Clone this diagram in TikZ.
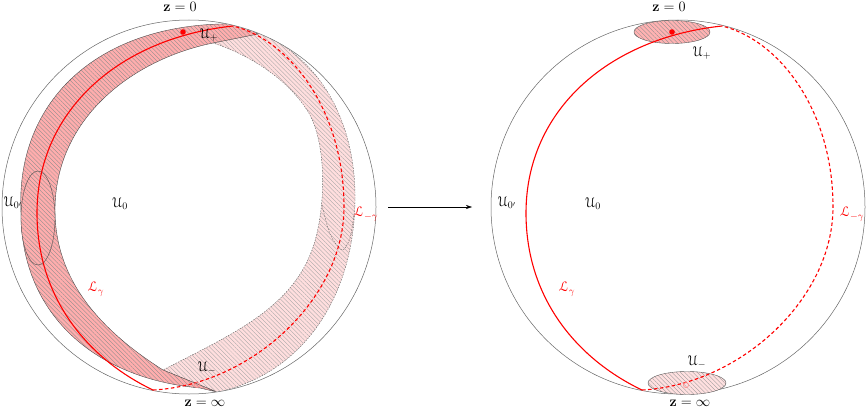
\documentclass[tikz,border=0pt]{standalone}
\usepackage{amsmath}
\usepackage{eucal}
\usetikzlibrary{patterns,patterns.meta,arrows.meta}
\begin{document}
\begin{tikzpicture}[x=1pt,y=-1pt,font=\fontsize{14}{16}\selectfont,
  rim/.style={draw=black!60,line width=0.5pt},
  hatch/.style={pattern={Lines[angle=-45,distance=3pt,line width=0.35pt]}},
  bandA/.style={preaction={fill=red!32},hatch,pattern color=black!45,draw=black!70,line width=0.4pt},
  bandB/.style={preaction={fill=red!13},hatch,pattern color=black!35,postaction={draw=black!60,line width=0.4pt,dash pattern=on 1.5pt off 1.2pt}},
  lensline/.style={draw=black!60,line width=0.4pt,dash pattern=on 1.5pt off 1.2pt},
  ellA/.style={preaction={fill=red!30},hatch,pattern color=black!45,draw=black!65,line width=0.4pt},
  ellB/.style={preaction={fill=red!12},hatch,pattern color=black!40,draw=black!65,line width=0.4pt},
  solidc/.style={red,line width=1.1pt},
  dashc/.style={red,line width=1.1pt,dash pattern=on 3.5pt off 2.5pt},
  lbl/.style={inner sep=0pt},
  rlbl/.style={inner sep=0pt,text=red}]
\useasboundingbox (0,0) rectangle (866,409);

% ---------- left picture ----------
\coordinate (cl) at (189,207);
\begin{scope}
\clip (cl) circle[radius=186.5pt];
\path[bandB] (233,24) .. controls (318,45) and (356,120) .. (355,200)
  .. controls (354,300) and (300,375) .. (217,392)
  -- (163,370) .. controls (230,335) and (290,310) .. (312,250)
  .. controls (325,215) and (328,150) .. (310,115)
  .. controls (290,80) and (250,55) .. (213,43) -- cycle;
\path[bandA] (258,34) -- (240,24) .. controls (100,20) and (15,100) .. (21,213)
  .. controls (21,310) and (90,378) .. (200,388) -- (217,392)
  -- (163,370) .. controls (100,330) and (55,280) .. (55,210)
  .. controls (55,120) and (130,60) .. (213,43) -- cycle;
\path[bandA] (38,218) ellipse[x radius=17pt,y radius=47pt];
\draw[lensline] plot[smooth] coordinates {(322,205) (330,234) (342,250) (350,238) (354,214)};
\end{scope}
\draw[rim] (cl) circle[radius=187pt];

% ---------- right picture ----------
\coordinate (cr) at (678,207);
\draw[rim] (cr) circle[radius=187pt];
\begin{scope}[shift={(489,0)}]
\path[ellA] (183,32) ellipse[x radius=38pt,y radius=11.5pt];
\path[ellB] (198,383) ellipse[x radius=39pt,y radius=11.5pt];
\end{scope}

% ---------- red curves (both pictures) ----------
\foreach \dx in {0,489}{
\begin{scope}[shift={(\dx,0)}]
\draw[solidc] (233,26) .. controls (120,38) and (37,110) .. (37,213)
  .. controls (37,300) and (90,360) .. (153,390);
\draw[dashc] (153,390) .. controls (250,385) and (344,300) .. (344,207)
  .. controls (344,110) and (290,40) .. (233,26);
\fill[red] (183,32) circle[radius=2.8pt];
\draw[red!45,line width=0.6pt] (197,385) circle[radius=2.6pt];
\end{scope}}

% ---------- arrow ----------
\coordinate (a1) at (388,207);
\coordinate (a2) at (472,207);
\draw[line width=0.5pt,-{Stealth[length=6pt,width=4pt]}] (a1) -- (a2);

% ---------- labels left ----------
\node[lbl] (z0L) at (180,7) {$\mathbf{z}=0$};
\node[lbl] (zinfL) at (205,403) {$\mathbf{z}=\infty$};
\node[lbl] (UpL) at (209,35) {$\mathcal{U}_{+}$};
\node[lbl] (UmL) at (207,368) {$\mathcal{U}_{-}$};
\node[lbl] (U0pL) at (13,203) {$\mathcal{U}_{0'}$};
\node[lbl] (U0L) at (120,204) {$\mathcal{U}_{0}$};
\node[rlbl] (LgL) at (96,289) {$\mathcal{L}_{\gamma}$};
\node[rlbl] (LmgL) at (366,214) {$\mathcal{L}_{-\gamma}$};

% ---------- labels right ----------
\node[lbl] (z0R) at (669,7) {$\mathbf{z}=0$};
\node[lbl] (zinfR) at (690,403) {$\mathbf{z}=\infty$};
\node[lbl] (UpR) at (702,53) {$\mathcal{U}_{+}$};
\node[lbl] (UmR) at (697,362) {$\mathcal{U}_{-}$};
\node[lbl] (U0pR) at (507,203) {$\mathcal{U}_{0'}$};
\node[lbl] (U0R) at (593,204) {$\mathcal{U}_{0}$};
\node[rlbl] (LgR) at (567,289) {$\mathcal{L}_{\gamma}$};
\node[rlbl] (LmgR) at (852,214) {$\mathcal{L}_{-\gamma}$};
\end{tikzpicture}
\end{document}
